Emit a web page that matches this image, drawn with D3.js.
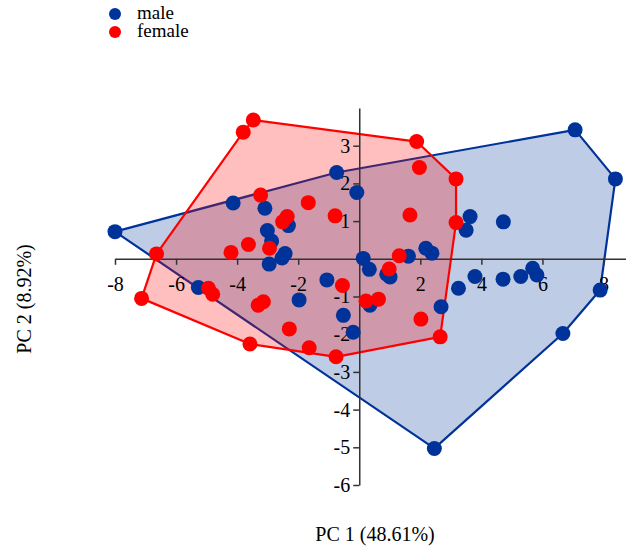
<!DOCTYPE html>
<html>
<head>
<meta charset="utf-8">
<script src="https://cdn.jsdelivr.net/npm/d3@7"></script>
<style>
  body { margin: 0; background: #fff; }
  text { font-family: "Liberation Serif", "Times New Roman", serif; }
</style>
</head>
<body>
<div id="chart"></div>
<script>
// PCA scores
const maleX = [-8.00, -4.13, -3.09, -2.32, -3.01, -2.87, -2.43, -2.53, -2.95, -5.27,
  -1.97, -1.06, -0.52, -0.20, -0.74, -0.08, 0.13, 0.33, 0.90, 1.01,
  0.35, 1.61, 2.18, 2.38, 2.68, 3.25, 3.79, 4.71, 5.29, 5.68,
  5.82, 3.50, 3.63, 4.72, 7.07, 8.39, 7.89, 6.67, 2.46];
const maleY = [0.72, 1.48, 1.34, 0.88, 0.75, 0.47, 0.14, 0.02, -0.14, -0.76,
  -1.09, -0.56, -1.50, -1.95, 2.29, 1.76, 0.01, -0.28, -0.41, -0.48,
  -1.23, 0.07, 0.28, 0.15, -1.27, -0.78, -0.47, -0.54, -0.47, -0.25,
  -0.43, 0.76, 1.12, 0.98, 3.42, 2.12, -0.83, -1.98, -5.03];

const femaleX = [-3.47, -3.80, -6.64, -3.23, -2.36, -2.51, -1.67, -0.79, -3.63, -4.20,
  -2.94, 1.88, 3.17, 1.97, 1.66, 3.17, 1.31, 0.98, -7.13, -4.94,
  -4.80, -3.31, -3.14, -2.29, -3.58, -1.64, -0.76, -0.55, 0.22, 0.63,
  2.02, 2.65];
const femaleY = [3.68, 3.36, 0.13, 1.69, 1.12, 0.98, 1.49, 1.14, 0.38, 0.17,
  0.28, 3.11, 2.12, 2.42, 1.16, 0.96, 0.08, -0.27, -1.05, -0.78,
  -0.94, -1.23, -1.14, -1.86, -2.26, -2.36, -2.60, -0.71, -1.12, -1.07,
  -1.60, -2.07];

const groups = ["male", "female"];
const colors = ["#003399", "#ff0000"];
const xTicks = [-8, -6, -4, -2, 2, 4, 6, 8];
const yTicks = [-6, -5, -4, -3, -2, -1, 1, 2, 3];
const xLabel = "PC 1 (48.61%)";
const yLabel = "PC 2 (8.92%)";

const width = 626;
const height = 550;
const serif = "Liberation Serif, Times New Roman, serif";

const series = [
  { name: groups[0], color: colors[0], pts: maleX.map((x, i) => [x, maleY[i]]) },
  { name: groups[1], color: colors[1], pts: femaleX.map((x, i) => [x, femaleY[i]]) }
];

const x = d3.scaleLinear().domain([-8, 8.75]).range([115, 626.4]);
const y = d3.scaleLinear().domain([-6, 4]).range([485, 108]);

const svg = d3.select("#chart")
  .append("svg")
  .attr("width", width)
  .attr("height", height);

// hulls
series.forEach(s => {
  const hull = d3.polygonHull(s.pts.map(p => [x(p[0]), y(p[1])]));
  svg.append("path")
    .attr("d", "M" + hull.join("L") + "Z")
    .attr("fill", s.color)
    .attr("fill-opacity", 0.25)
    .attr("stroke", s.color)
    .attr("stroke-width", 2.2)
    .attr("stroke-linejoin", "round");
});

// axes crossing at the origin
const xAxis = svg.append("g")
  .attr("transform", `translate(0,${y(0)})`)
  .call(d3.axisBottom(x).tickValues(xTicks).tickFormat(d => String(d))
    .tickSizeOuter(0).tickPadding(12));

const yAxis = svg.append("g")
  .attr("transform", `translate(${x(0)},0)`)
  .call(d3.axisLeft(y).tickValues(yTicks).tickFormat(d => String(d))
    .tickSizeOuter(0));

[xAxis, yAxis].forEach(g => {
  g.attr("font-family", serif).attr("font-size", 20);
  g.select(".domain").attr("stroke", "#333").attr("stroke-width", 1.5);
  g.selectAll(".tick line").attr("stroke", "#333").attr("stroke-width", 1.5);
  g.selectAll("text").attr("fill", "#000");
});

// points
series.forEach(s => {
  svg.append("g")
    .selectAll("circle")
    .data(s.pts)
    .enter()
    .append("circle")
    .attr("cx", d => x(d[0]))
    .attr("cy", d => y(d[1]))
    .attr("r", 7.5)
    .attr("fill", s.color);
});

// axis titles
svg.append("text")
  .attr("x", 375)
  .attr("y", 541)
  .attr("text-anchor", "middle")
  .style("font-size", "20px")
  .text(xLabel);

svg.append("text")
  .attr("transform", "rotate(-90)")
  .attr("x", -299)
  .attr("y", 31)
  .attr("text-anchor", "middle")
  .style("font-size", "20px")
  .text(yLabel);

// legend
const legend = svg.append("g").attr("transform", "translate(115,14)");
series.forEach((s, i) => {
  legend.append("circle")
    .attr("cx", 0)
    .attr("cy", i * 18)
    .attr("r", 6)
    .attr("fill", s.color);
  legend.append("text")
    .attr("x", 22)
    .attr("y", i * 18 + 5)
    .style("font-size", "19px")
    .text(s.name);
});
</script>
</body>
</html>
